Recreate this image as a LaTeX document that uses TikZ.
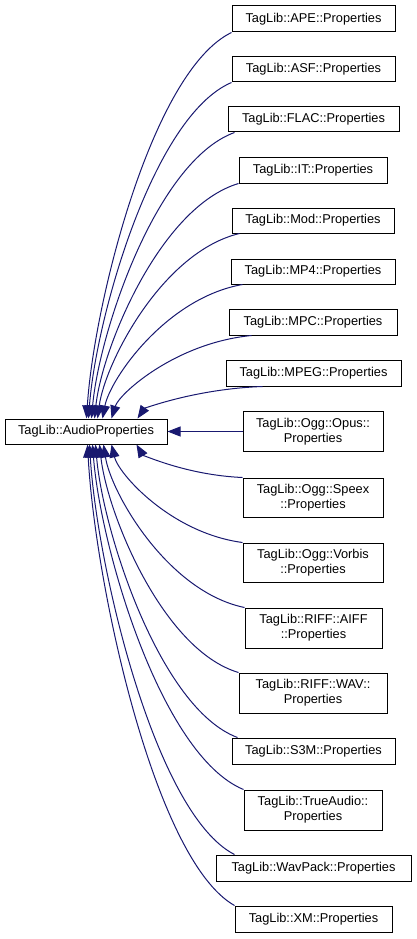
\documentclass[tikz,border=0pt]{standalone}
\usepackage{fontspec}
\setmainfont{Liberation Sans}
\usetikzlibrary{arrows.meta,calc}
\definecolor{edgeblue}{HTML}{191970}
\begin{document}
\begin{tikzpicture}[x=1pt,y=-1pt,
  box/.style={draw=black,line width=1pt,fill=white,inner sep=0pt,align=center,
    font=\fontsize{12.8}{15}\selectfont},
  edge/.style={draw=edgeblue,line width=1pt,-{Triangle[length=13pt,width=10pt]}}]
\useasboundingbox (0,0) rectangle (416,939);
\node[box,minimum width=162pt,minimum height=25pt] (ap) at (86,431.5) {TagLib::AudioProperties};
\node[box,minimum width=163pt,minimum height=26pt] (ape) at (313.5,19) {TagLib::APE::Properties};
\node[box,minimum width=163pt,minimum height=25pt] (asf) at (313.5,69.5) {TagLib::ASF::Properties};
\node[box,minimum width=171pt,minimum height=25pt] (flac) at (313.5,119.5) {TagLib::FLAC::Properties};
\node[box,minimum width=148pt,minimum height=26pt] (it) at (313,170) {TagLib::IT::Properties};
\node[box,minimum width=162pt,minimum height=25pt] (mod) at (313,220.5) {TagLib::Mod::Properties};
\node[box,minimum width=164pt,minimum height=25pt] (mpf) at (313,271.5) {TagLib::MP4::Properties};
\node[box,minimum width=168pt,minimum height=26pt] (mpc) at (313,322) {TagLib::MPC::Properties};
\node[box,minimum width=175pt,minimum height=26pt] (mpeg) at (313.5,373) {TagLib::MPEG::Properties};
\node[box,minimum width=140pt,minimum height=40pt] (opus) at (313,431.5) {TagLib::Ogg::Opus::\\Properties};
\node[box,minimum width=140pt,minimum height=39pt] (speex) at (313,497.5) {TagLib::Ogg::Speex\\::Properties};
\node[box,minimum width=140pt,minimum height=39pt] (vorbis) at (313,562.5) {TagLib::Ogg::Vorbis\\::Properties};
\node[box,minimum width=137pt,minimum height=40pt] (aiff) at (313.5,628) {TagLib::RIFF::AIFF\\::Properties};
\node[box,minimum width=148pt,minimum height=40pt] (wav) at (313,693) {TagLib::RIFF::WAV::\\Properties};
\node[box,minimum width=163pt,minimum height=26pt] (s3m) at (313.5,751) {TagLib::S3M::Properties};
\node[box,minimum width=138pt,minimum height=40pt] (tta) at (313,810) {TagLib::TrueAudio::\\Properties};
\node[box,minimum width=195pt,minimum height=26pt] (wv) at (313.5,868) {TagLib::WavPack::Properties};
\node[box,minimum width=157pt,minimum height=26pt] (xm) at (313.5,919) {TagLib::XM::Properties};
% upper edges
\draw[edge] (ape.south west) .. controls (152,71) and (94,303) .. ($(ap.north west)+(82,0)$);
\draw[edge] (asf.south west) .. controls (153,116) and (96,318) .. ($(ap.north west)+(84,0)$);
\draw[edge] ($(flac.south west)+(7,0)$) .. controls (156,161) and (99,333) .. ($(ap.north west)+(87,0)$);
\draw[edge] (it.south west) .. controls (160,207) and (102,348) .. ($(ap.north west)+(90,0)$);
\draw[edge] ($(mod.south west)+(8,0)$) .. controls (162,252) and (105,363) .. ($(ap.north west)+(93,0)$);
\draw[edge] ($(mpf.south west)+(12,0)$) .. controls (166,298) and (110,379) .. ($(ap.north west)+(98,0)$);
\draw[edge] ($(mpc.south west)+(23,0)$) .. controls (175,343) and (119,394) .. ($(ap.north west)+(107,0)$);
\draw[edge] ($(mpeg.south west)+(37,0)$) .. controls (194,389) and (144,409) .. ($(ap.north west)+(133,0)$);
\draw[edge] (opus.west) -- (ap.east);
% lower edges
\draw[edge] (speex.north west) .. controls (185,475) and (142,454) .. ($(ap.south west)+(132,0)$);
\draw[edge] (vorbis.north west) .. controls (171,533) and (118.5,474) .. ($(ap.south west)+(107,0)$);
\draw[edge] (aiff.north west) .. controls (167.5,591.6) and (111,493) .. ($(ap.south west)+(99,0)$);
\draw[edge] (wav.north west) .. controls (162.5,650) and (107,513) .. ($(ap.south west)+(95,0)$);
\draw[edge] ($(s3m.north west)+(6,0)$) .. controls (160,708.6) and (103,532) .. ($(ap.south west)+(91,0)$);
\draw[edge] (tta.north west) .. controls (161,755.4) and (100.5,548) .. ($(ap.south west)+(88,0)$);
\draw[edge] ($(wv.north west)+(19,0)$) .. controls (155,814) and (97,567) .. ($(ap.south west)+(85,0)$);
\draw[edge] (xm.north west) .. controls (154,860) and (95,583) .. ($(ap.south west)+(83,0)$);
\end{tikzpicture}
\end{document}
